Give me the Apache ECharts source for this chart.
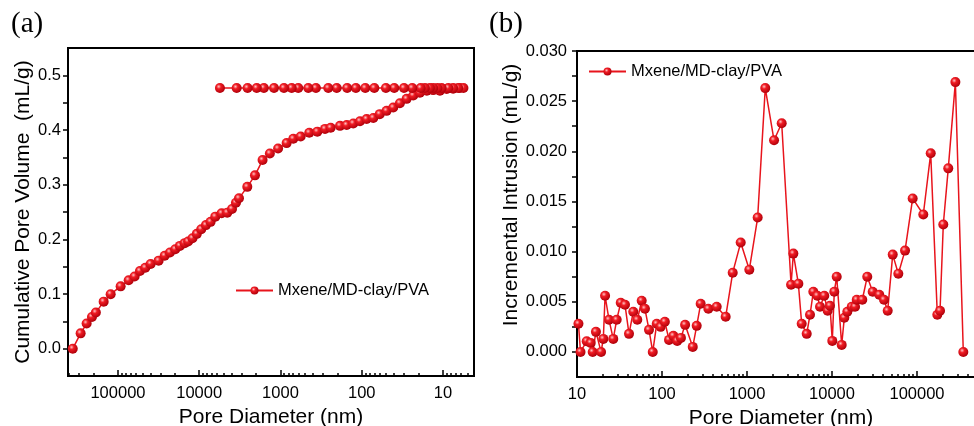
<!DOCTYPE html>
<html><head><meta charset="utf-8">
<script src="https://cdn.jsdelivr.net/npm/echarts@6/dist/echarts.min.js"></script>
<style>html,body{margin:0;padding:0;background:#fff}#c{width:974px;height:426px}</style>
</head><body><div id="c"></div>
<script>
const seriesName = 'Mxene/MD-clay/PVA';

// Panel (a): cumulative pore volume (intrusion, then extrusion back)
const intrusionDiameterA = [360000, 288000, 243000, 209000, 187000, 150000, 123000, 92700, 73800, 62400, 53600, 46100, 39600, 31600, 26600, 22900, 19700, 17300, 15100, 13700, 12100, 10700, 9440, 8260, 7240, 6340, 5300, 4520, 3950, 3530, 3240, 2560, 2060, 1660, 1350, 1070, 840, 695, 564, 442, 352, 283, 241, 185, 153, 127, 105, 87, 72, 60, 49.4, 40.9, 33.9, 28, 23.2, 19.2, 15.8, 13.2, 10.9, 9.0, 7.5, 6.2];
const intrusionVolumeA = [0.0, 0.028, 0.046, 0.058, 0.066, 0.086, 0.0997, 0.114, 0.125, 0.132, 0.142, 0.148, 0.155, 0.161, 0.170, 0.176, 0.182, 0.188, 0.193, 0.196, 0.202, 0.210, 0.2185, 0.226, 0.232, 0.2415, 0.2476, 0.2488, 0.2555, 0.267, 0.275, 0.296, 0.317, 0.345, 0.357, 0.366, 0.376, 0.384, 0.388, 0.395, 0.397, 0.402, 0.404, 0.4076, 0.409, 0.412, 0.416, 0.420, 0.422, 0.429, 0.435, 0.441, 0.449, 0.457, 0.463, 0.468, 0.472, 0.473, 0.472, 0.475, 0.4755, 0.4767];
const extrusionDiameterA = [5.6, 6.5, 7.5, 8.6, 10.4, 11.7, 13.2, 14.5, 16.7, 18.8, 23.9, 30.2, 39.8, 50.4, 70, 90.4, 118, 151, 203, 258, 366, 455, 604, 728, 906, 1200, 1600, 1960, 2540, 3460, 5560];
const extrusionVolumeA = [0.4767, 0.4767, 0.4767, 0.4767, 0.4767, 0.4767, 0.4767, 0.4767, 0.4767, 0.4767, 0.4767, 0.4767, 0.4767, 0.4767, 0.4767, 0.4767, 0.4767, 0.4767, 0.4767, 0.4767, 0.4767, 0.4767, 0.4767, 0.4767, 0.4767, 0.4767, 0.4767, 0.4767, 0.4767, 0.4767, 0.4767];

// Panel (b): incremental intrusion
const diameterB = [10.4, 11, 13, 14.5, 15.3, 16.7, 19.2, 20.4, 21.4, 23.8, 26.7, 29.3, 32.7, 36.7, 40.9, 45.9, 51.2, 57.7, 63, 70.3, 77.8, 86.7, 96.5, 108, 121, 136, 151, 167, 187, 230, 256, 285, 351, 440, 561, 679, 843, 1065, 1335, 1640, 2080, 2560, 3300, 3510, 4020, 4400, 5040, 5510, 6030, 6720, 7230, 8110, 8890, 9460, 10080, 10640, 11360, 13000, 13960, 15140, 17060, 18660, 19540, 22720, 26000, 30100, 36000, 40900, 45200, 51800, 60300, 72300, 88900, 118600, 145000, 173400, 186600, 203900, 233300, 282800, 350600];
const incrementB = [0.0028, 0.0, 0.00107, 0.0009, 0.0, 0.002, 0.0, 0.0013, 0.0056, 0.0032, 0.0013, 0.0032, 0.0049, 0.0047, 0.0018, 0.0040, 0.0032, 0.0051, 0.0043, 0.0022, 0.0, 0.0028, 0.0025, 0.003, 0.0012, 0.0016, 0.0011, 0.0014, 0.0027, 0.0005, 0.0026, 0.0048, 0.0043, 0.0045, 0.0035, 0.0079, 0.0109, 0.0082, 0.0134, 0.0263, 0.0211, 0.0228, 0.0067, 0.0098, 0.0068, 0.0028, 0.0018, 0.0037, 0.006, 0.0056, 0.0045, 0.0056, 0.0041, 0.0046, 0.0011, 0.006, 0.0075, 0.0007, 0.0034, 0.0040, 0.0045, 0.0045, 0.0052, 0.0052, 0.0075, 0.006, 0.0057, 0.0052, 0.0041, 0.0097, 0.0078, 0.0101, 0.0153, 0.0137, 0.0198, 0.0037, 0.0041, 0.0127, 0.0183, 0.0269, 0.0];

// Tick labels / tick positions
const xLabelsA = [100000, 10000, 1000, 100, 10];
const xLabelsB = [10, 100, 1000, 10000, 100000];
const decades = [1, 10, 100, 1000, 10000, 100000];
const yLabelsA = [0, 0.1, 0.2, 0.3, 0.4, 0.5];
const yTicksA = [0, 0.05, 0.1, 0.15, 0.2, 0.25, 0.3, 0.35, 0.4, 0.45, 0.5];
const yLabelsB = [0, 0.005, 0.01, 0.015, 0.02, 0.025, 0.03];
const yTicksB = [0, 0.0025, 0.005, 0.0075, 0.01, 0.0125, 0.015, 0.0175, 0.02, 0.0225, 0.025, 0.0275, 0.03];
const minorMultipliers = [2, 3, 4, 5, 6, 7, 8, 9];
const minorTicks = [];
decades.forEach(d => minorMultipliers.forEach(m => minorTicks.push(m * d)));

const FONT = 'Liberation Sans, Arial, sans-serif';
const RED = '#e8141c';
const ball = {
  type: 'radial', x: 0.38, y: 0.35, r: 0.65,
  colorStops: [{offset: 0, color: '#ffc4c4'}, {offset: 0.35, color: '#f01c24'}, {offset: 1, color: '#b0000a'}]
};
const axisLineStyle = {color: '#000', width: 2};
const labelStyle = {color: '#000', fontSize: 16.5, fontFamily: FONT};
const nameStyle = {color: '#000', fontSize: 21, fontFamily: FONT};

const dataA = intrusionDiameterA.map((d, i) => [d, intrusionVolumeA[i]])
  .concat(extrusionDiameterA.map((d, i) => [d, extrusionVolumeA[i]]));
const dataB = diameterB.map((d, i) => [d, incrementB[i]]);

function majorX(grid, labels, min, max, inverse, namePadding) {
  return {
    gridIndex: grid, type: 'log', logBase: 10, min: min, max: max, inverse: inverse, position: 'bottom',
    axisLine: {show: true, onZero: false, lineStyle: axisLineStyle},
    axisTick: {show: true, inside: true, length: 6, customValues: labels, lineStyle: {color: '#000', width: 1.5}},
    minorTick: {show: false},
    axisLabel: {show: true, customValues: labels, margin: 9, formatter: v => String(Math.round(v)), ...labelStyle},
    splitLine: {show: false},
    name: 'Pore Diameter (nm)', nameLocation: 'middle', nameGap: 28,
    nameTextStyle: {...nameStyle, padding: namePadding}
  };
}
function minorX(grid, min, max, inverse) {
  return {
    gridIndex: grid, type: 'log', logBase: 10, min: min, max: max, inverse: inverse, position: 'bottom',
    axisLine: {show: false, onZero: false},
    axisTick: {show: true, inside: true, length: 3, customValues: minorTicks, lineStyle: {color: '#000', width: 1.5}},
    axisLabel: {show: false}, splitLine: {show: false}, minorTick: {show: false}
  };
}

const chart = echarts.init(document.getElementById('c'), null, {renderer: 'canvas'});
chart.setOption({
  animation: false,
  backgroundColor: '#fff',
  grid: [
    {left: 68, top: 48, width: 406, height: 328, outerBoundsMode: 'none', containLabel: false,
     show: true, borderColor: '#000', borderWidth: 2, backgroundColor: 'transparent'},
    {left: 577, top: 51, width: 425, height: 326, outerBoundsMode: 'none', containLabel: false,
     show: true, borderColor: '#000', borderWidth: 2, backgroundColor: 'transparent'}
  ],
  xAxis: [
    majorX(0, xLabelsA, 4.15, 412000, true, [0, 0, 0, 0]),
    minorX(0, 4.15, 412000, true),
    majorX(1, xLabelsB, 10, 1000000, false, [0, 17, 0, 0]),
    minorX(1, 10, 1000000, false)
  ],
  yAxis: [
    {
      gridIndex: 0, type: 'value', min: -0.05, max: 0.55, position: 'left',
      axisLine: {show: true, onZero: false, lineStyle: axisLineStyle},
      axisTick: {show: true, inside: false, length: 5, customValues: yTicksA, lineStyle: {color: '#000', width: 1.5}},
      axisLabel: {show: true, customValues: yLabelsA, margin: 7, formatter: v => v.toFixed(1), ...labelStyle},
      splitLine: {show: false},
      name: 'Cumulative Pore Volume  (mL/g)', nameLocation: 'middle', nameGap: 28, nameTextStyle: nameStyle
    },
    {
      gridIndex: 1, type: 'value', min: -0.0025, max: 0.03, position: 'left',
      axisLine: {show: true, onZero: false, lineStyle: axisLineStyle},
      axisTick: {show: true, inside: false, length: 5, customValues: yTicksB, lineStyle: {color: '#000', width: 1.5}},
      axisLabel: {show: true, customValues: yLabelsB, margin: 10, formatter: v => v.toFixed(3), ...labelStyle},
      splitLine: {show: false},
      name: 'Incremental Intrusion (mL/g)', nameLocation: 'middle', nameGap: 46,
      nameTextStyle: {...nameStyle, padding: [0, 0, 0, 38]}
    }
  ],
  legend: [
    {left: 230, top: 277, itemWidth: 37, itemHeight: 10, itemGap: 10, data: [seriesName],
     textStyle: {color: '#000', fontSize: 16.5, fontFamily: FONT}, selectedMode: false},
    {left: 583, top: 58, itemWidth: 37, itemHeight: 10, itemGap: 10, data: [seriesName],
     textStyle: {color: '#000', fontSize: 16.5, fontFamily: FONT}, selectedMode: false}
  ],
  graphic: [
    {type: 'text', left: 11, top: 10, style: {text: '(a)', fill: '#000', font: '29px "Liberation Serif", "Times New Roman", serif'}},
    {type: 'text', left: 489, top: 10, style: {text: '(b)', fill: '#000', font: '29px "Liberation Serif", "Times New Roman", serif'}}
  ],
  series: [
    {
      name: seriesName, type: 'line', xAxisIndex: 0, yAxisIndex: 0, data: dataA,
      symbol: 'circle', symbolSize: 10, showAllSymbol: true,
      lineStyle: {color: RED, width: 1.5}, itemStyle: {color: ball}
    },
    {
      name: seriesName, type: 'line', xAxisIndex: 2, yAxisIndex: 1, data: dataB,
      symbol: 'circle', symbolSize: 10, showAllSymbol: true,
      lineStyle: {color: RED, width: 1.5}, itemStyle: {color: ball}
    }
  ]
});
</script>
</body></html>
